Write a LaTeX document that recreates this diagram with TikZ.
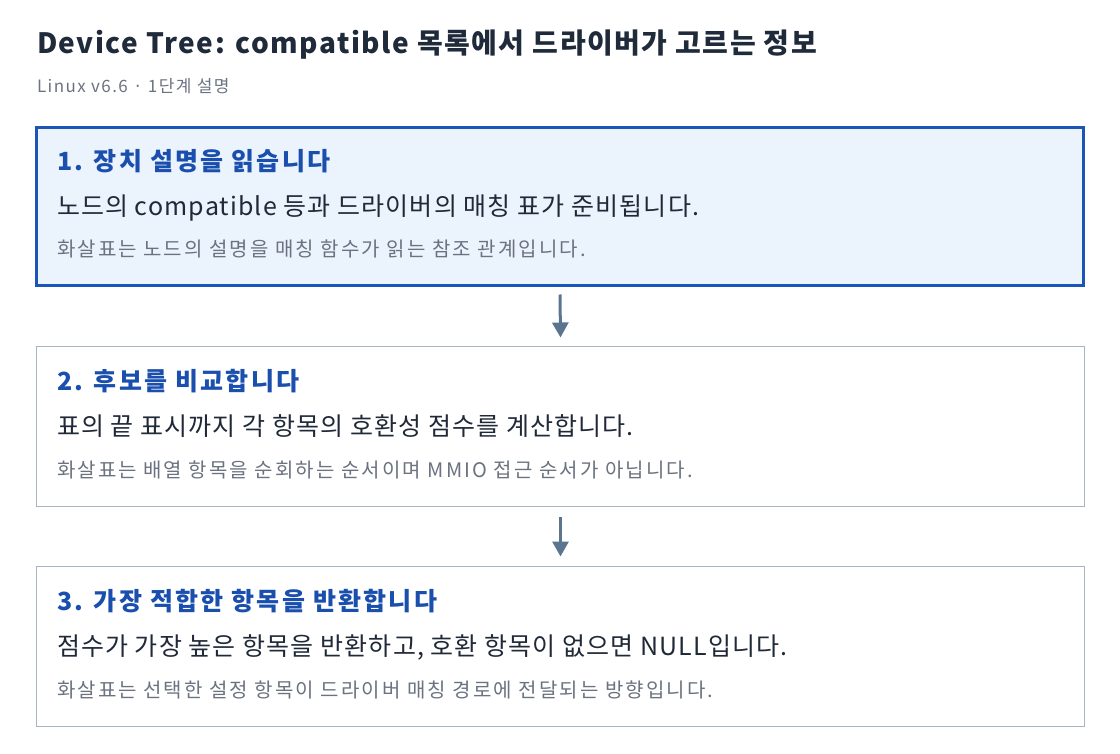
\documentclass[tikz,border=0pt]{standalone}
\usepackage{fontspec}
\setmainfont{Noto Sans CJK KR}
\usetikzlibrary{arrows.meta}
\definecolor{titlec}{HTML}{1F2A3A}
\definecolor{subc}{HTML}{6B7280}
\definecolor{headc}{HTML}{1A4FAE}
\definecolor{bodyc}{HTML}{1F2937}
\definecolor{notec}{HTML}{6B7280}
\definecolor{arrc}{HTML}{5B7591}
\definecolor{grayb}{HTML}{A9B4C2}
\definecolor{blueb}{HTML}{1A56B8}
\definecolor{bluef}{HTML}{EBF3FD}
\tikzset{
  txt/.style={anchor=base west, inner sep=0pt, outer sep=0pt},
  ttl/.style={txt, text=titlec, font=\fontsize{28}{32}\selectfont\bfseries\addfontfeatures{LetterSpace=5.5}},
  sub/.style={txt, text=subc, font=\fontsize{17}{20}\selectfont\addfontfeatures{LetterSpace=8.5}},
  head/.style={txt, text=headc, font=\fontsize{25}{29}\selectfont\bfseries\addfontfeatures{LetterSpace=9}},
  body/.style={txt, text=bodyc, font=\fontsize{25}{29}\selectfont\addfontfeatures{LetterSpace=4.5}},
  note/.style={txt, text=notec, font=\fontsize{20}{24}\selectfont\addfontfeatures{LetterSpace=10.5}},
  stepbox/.style={draw=grayb, line width=1pt, fill=white, anchor=north west,
    minimum width=1048pt, minimum height=160pt, inner sep=0pt, outer sep=0pt},
  activebox/.style={stepbox, draw=blueb, fill=bluef, line width=3pt,
    minimum width=1047pt, minimum height=158pt},
  arr/.style={draw=arrc, line width=3pt, -{Triangle[width=16pt,length=15pt]}, shorten >=0pt}
}
\begin{document}
\begin{tikzpicture}[x=1pt,y=-1pt]
\useasboundingbox (0,0) rectangle (1120,754);
\node[ttl] (title) at (37,54) {Device Tree: compatible 목록에서 드라이버가 고르는 정보};
\node[sub] (subtitle) at (37,93) {Linux v6.6 · 1단계 설명};

\node[activebox] (s1) at (36.5,127.5) {};
\node[stepbox] (s2) at (36.5,346.5) {};
\node[stepbox] (s3) at (36.5,566.5) {};

\node[head] (h1) at (57,171) {1. 장치 설명을 읽습니다};
\node[body] (b1) at (57,216) {노드의 compatible 등과 드라이버의 매칭 표가 준비됩니다.};
\node[note] (n1) at (57,257) {화살표는 노드의 설명을 매칭 함수가 읽는 참조 관계입니다.};

\node[head] (h2) at (57,390) {2. 후보를 비교합니다};
\node[body] (b2) at (57,435) {표의 끝 표시까지 각 항목의 호환성 점수를 계산합니다.};
\node[note] (n2) at (57,477) {화살표는 배열 항목을 순회하는 순서이며 MMIO 접근 순서가 아닙니다.};

\node[head] (h3) at (57,610) {3. 가장 적합한 항목을 반환합니다};
\node[body] (b3) at (57,655) {점수가 가장 높은 항목을 반환하고, 호환 항목이 없으면 NULL입니다.};
\node[note] (n3) at (57,697) {화살표는 선택한 설정 항목이 드라이버 매칭 경로에 전달되는 방향입니다.};

\draw[arr] ([yshift=-9pt]s1.south) -- ([yshift=9pt]s2.north);
\draw[arr] ([yshift=-10pt]s2.south) -- ([yshift=10pt]s3.north);
\end{tikzpicture}
\end{document}
